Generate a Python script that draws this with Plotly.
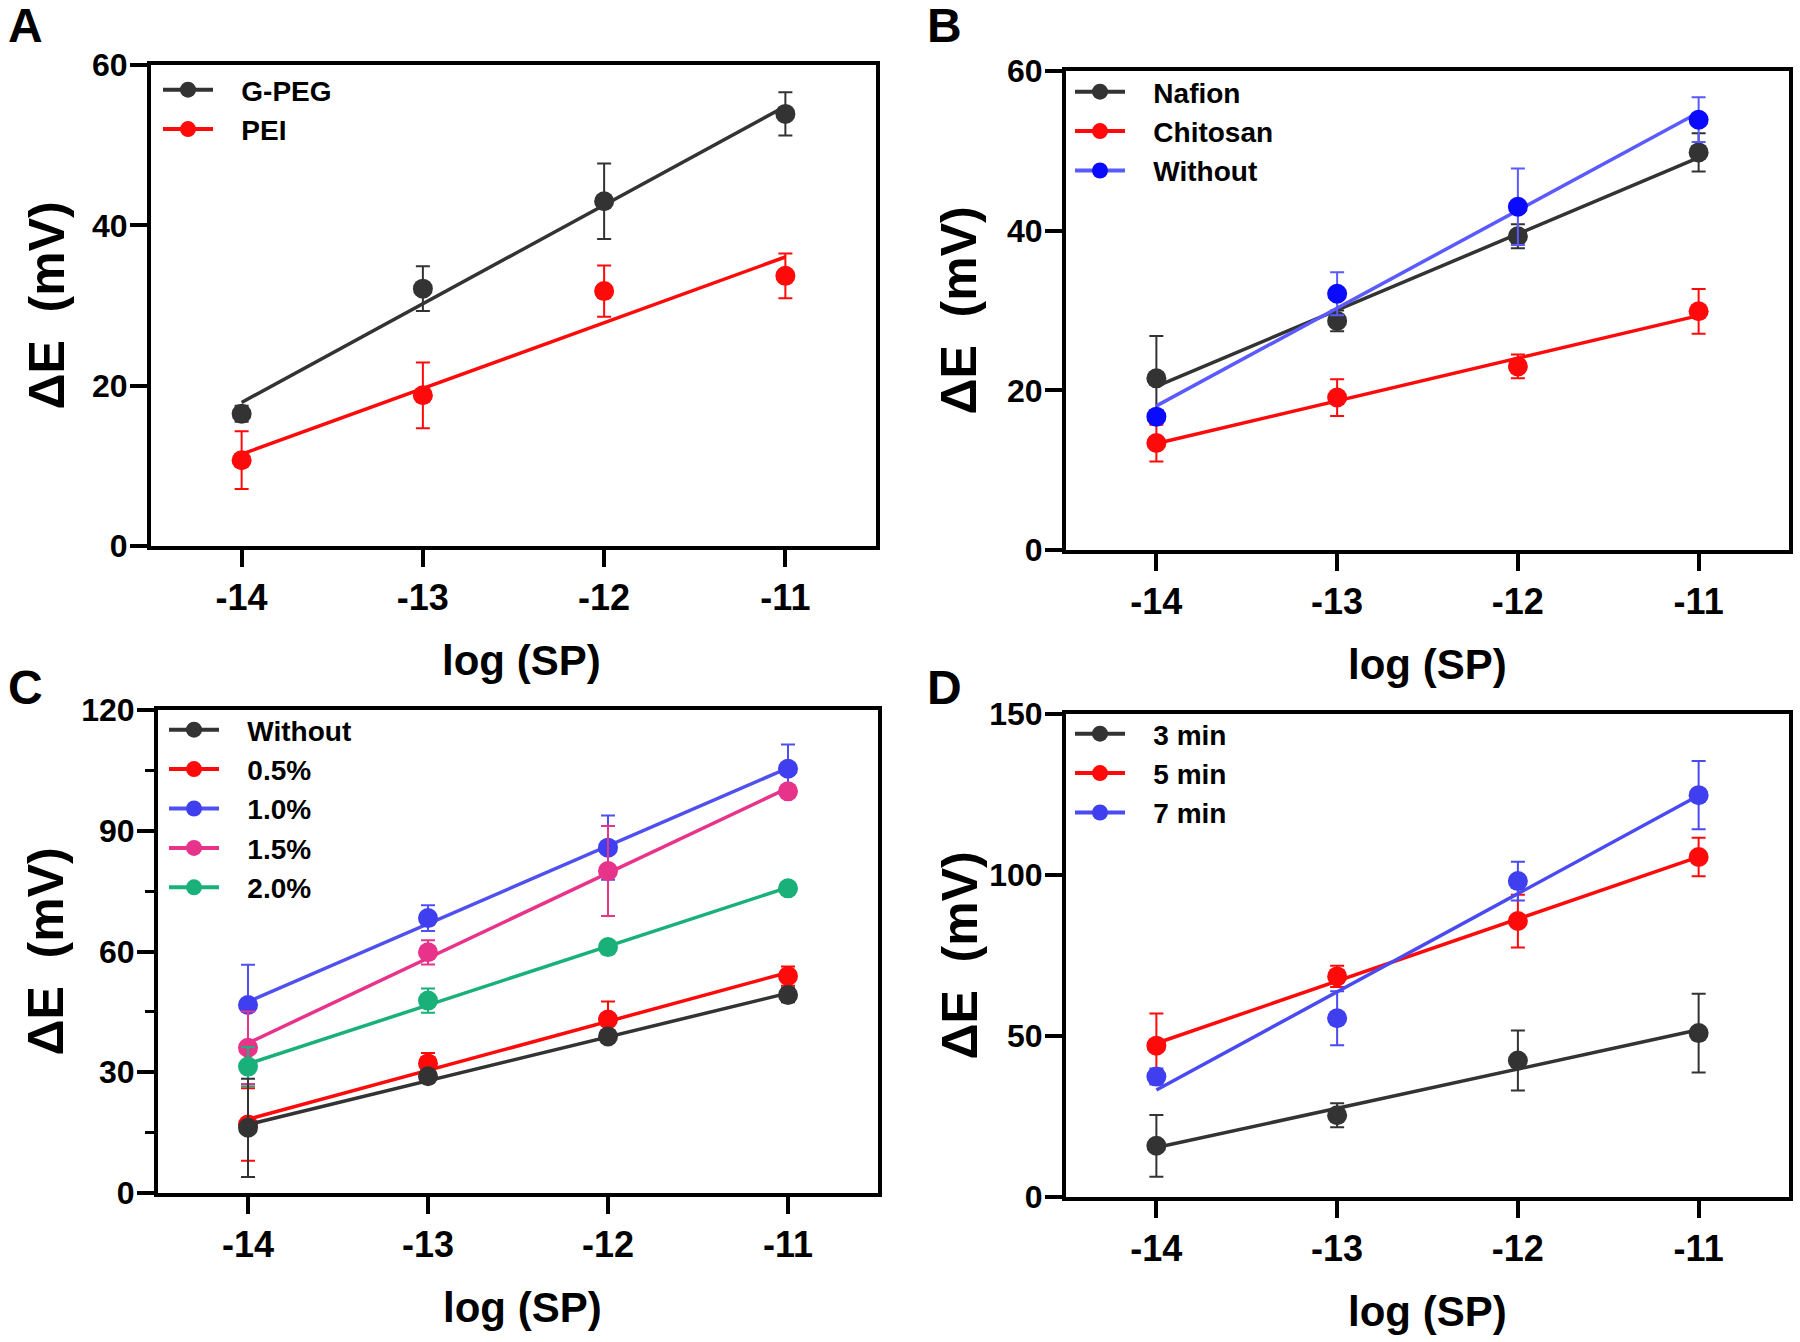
import numpy as np
import plotly.graph_objects as go

W, H = 1800, 1342

# ---------------- data ----------------
log_sp = [-14, -13, -12, -11]
x_ticks = [-14, -13, -12, -11]
x_tick_labels = ["-14", "-13", "-12", "-11"]

a_gpeg = [16.5, 32.1, 43.0, 53.9]
a_gpeg_err = [1.0, 2.8, 4.7, 2.7]
a_pei = [10.7, 18.8, 31.8, 33.7]
a_pei_err = [3.6, 4.1, 3.2, 2.8]

b_nafion = [21.5, 28.7, 39.3, 49.8]
b_nafion_err = [5.3, 1.3, 1.5, 2.4]
b_chitosan = [13.4, 19.1, 23.0, 29.9]
b_chitosan_err = [2.3, 2.3, 1.5, 2.8]
b_without = [16.7, 32.1, 43.0, 53.9]
b_without_err = [0.8, 2.7, 4.8, 2.8]

c_without = [16.2, 29.0, 38.9, 49.2]
c_without_err = [12.2, 1.0, 1.0, 1.8]
c_05 = [17.0, 32.2, 43.1, 53.9]
c_05_err = [9.0, 2.6, 4.5, 2.4]
c_10 = [46.7, 68.3, 85.8, 105.4]
c_10_err = [10.0, 3.2, 8.0, 6.0]
c_15 = [36.1, 59.8, 80.0, 99.8]
c_15_err = [9.0, 3.0, 11.2, 1.5]
c_20 = [31.4, 47.8, 61.1, 75.7]
c_20_err = [4.9, 3.0, 1.0, 1.0]

d_3 = [15.9, 25.4, 42.4, 50.9]
d_3_err = [9.6, 3.7, 9.3, 12.2]
d_5 = [47.0, 68.5, 85.7, 105.6]
d_5_err = [10.0, 3.3, 8.2, 6.0]
d_7 = [37.4, 55.5, 98.1, 124.8]
d_7_err = [2.5, 8.4, 6.0, 10.6]

a_labels = ["G-PEG", "PEI"]
b_labels = ["Nafion", "Chitosan", "Without"]
c_labels = ["Without", "0.5%", "1.0%", "1.5%", "2.0%"]
d_labels = ["3 min", "5 min", "7 min"]

# ---------------- style ----------------
BLACK = "#333333"
RED = "#ff0a0a"
BLUE_B = "#0a0aff"
BLUE = "#3f3ff0"
PINK = "#e8338a"
GREEN = "#19b07a"
FONT = "Liberation Sans"
PAD = "\u00a0\u00a0\u00a0"

fig = go.Figure()

# name: (x id, y id, x px span, y px span, ymax, dtick, legend id, legend px pos,
#        ytitle x px, xtitle x offset px)
panels = {
    "A": ("x", "y", (151, 876), (65, 546), 60, 20, "legend", (158, 65), 46, 8),
    "B": ("x2", "y2", (1066, 1789), (71, 550), 60, 20, "legend2", (1070, 67), 959, 0),
    "C": ("x3", "y3", (158, 878), (710, 1193), 120, 30, "legend3", (164, 705), 46, 4),
    "D": ("x4", "y4", (1066, 1789), (714, 1197), 150, 50, "legend4", (1070, 709), 959, 0),
}

series = {
    "A": [(a_labels[0], a_gpeg, a_gpeg_err, BLACK, BLACK),
          (a_labels[1], a_pei, a_pei_err, RED, RED)],
    "B": [(b_labels[0], b_nafion, b_nafion_err, BLACK, BLACK),
          (b_labels[1], b_chitosan, b_chitosan_err, RED, RED),
          (b_labels[2], b_without, b_without_err, BLUE_B, "#5a5aff")],
    "C": [(c_labels[0], c_without, c_without_err, BLACK, BLACK),
          (c_labels[1], c_05, c_05_err, RED, RED),
          (c_labels[2], c_10, c_10_err, BLUE, "#5050f0"),
          (c_labels[3], c_15, c_15_err, PINK, PINK),
          (c_labels[4], c_20, c_20_err, GREEN, GREEN)],
    "D": [(d_labels[0], d_3, d_3_err, BLACK, BLACK),
          (d_labels[1], d_5, d_5_err, RED, RED),
          (d_labels[2], d_7, d_7_err, BLUE, "#4a4af2")],
}

draw_order = {"A": [0, 1], "B": [0, 1, 2], "C": [1, 2, 3, 4, 0], "D": [0, 1, 2]}

xa = np.array(log_sp, dtype=float)
MS = 20

for p, (xid, yid, xd, yd, ymax, dtick, leg, lpos, ytx, xto) in panels.items():
    sers = series[p]
    for rank, (name, vals, errs, mcol, lcol) in enumerate(sers):
        fig.add_trace(go.Scatter(
            x=[None], y=[None], mode="lines+markers", name=PAD + name,
            line=dict(color=lcol, width=4),
            marker=dict(color=mcol, size=MS),
            xaxis=xid, yaxis=yid, legend=leg, legendrank=rank + 1,
            showlegend=True, hoverinfo="skip"))
    for i in draw_order[p]:
        name, vals, errs, mcol, lcol = sers[i]
        ya = np.array(vals, dtype=float)
        k, b = np.polyfit(xa, ya, 1)
        fig.add_trace(go.Scatter(
            x=[xa[0], xa[-1]], y=[k * xa[0] + b, k * xa[-1] + b],
            mode="lines", line=dict(color=lcol, width=3.5),
            xaxis=xid, yaxis=yid, showlegend=False, hoverinfo="skip"))
        fig.add_trace(go.Scatter(
            x=log_sp, y=vals, mode="markers",
            marker=dict(color=mcol, size=MS),
            error_y=dict(type="data", array=errs, visible=True,
                         color=lcol, thickness=2, width=7),
            xaxis=xid, yaxis=yid, showlegend=False, name=name))

layout = dict(
    template="none",
    width=W, height=H,
    margin=dict(l=0, r=0, t=0, b=0, pad=0, autoexpand=False),
    paper_bgcolor="white", plot_bgcolor="white",
    font=dict(family=FONT, color="black"),
    showlegend=True,
)

annotations = []
for p, (xid, yid, xd, yd, ymax, dtick, leg, lpos, ytx, xto) in panels.items():
    xkey = "xaxis" + xid[1:]
    ykey = "yaxis" + yid[1:]
    axis_common = dict(
        showline=True, linewidth=4, linecolor="black", mirror=True,
        ticks="outside", ticklen=17, tickwidth=4, tickcolor="black",
        showgrid=False, zeroline=False, automargin=False,
    )
    layout[xkey] = dict(
        domain=[xd[0] / W, xd[1] / W], anchor=yid,
        range=[-14.5, -10.5], tickvals=x_ticks, ticktext=x_tick_labels,
        tickfont=dict(family=FONT, size=36, color="black", weight="bold"),
        ticklabelstandoff=0,
        **axis_common)
    ydict = dict(
        domain=[1 - yd[1] / H, 1 - yd[0] / H], anchor=xid,
        range=[0, ymax], dtick=dtick, tick0=0,
        tickfont=dict(family=FONT, size=32, color="black", weight="bold"),
        ticklabelstandoff=-4,
        **axis_common)
    if p == "C":
        ydict["minor"] = dict(dtick=15, ticks="outside", ticklen=9,
                              tickwidth=3, tickcolor="black", showgrid=False)
    layout[ykey] = ydict
    layout[leg] = dict(
        x=lpos[0] / W, y=1 - lpos[1] / H, xanchor="left", yanchor="top",
        bgcolor="rgba(0,0,0,0)", borderwidth=0, itemwidth=50,
        font=dict(family=FONT, size=28, color="black", weight="bold"),
        traceorder="normal",
    )
    cx = (xd[0] + xd[1]) / 2 + xto
    cy = (yd[0] + yd[1]) / 2
    annotations.append(dict(
        x=cx / W, y=1 - (yd[1] + 114) / H, xref="paper", yref="paper",
        text="log (SP)", showarrow=False, xanchor="center", yanchor="middle",
        font=dict(family=FONT, size=42, color="black", weight="bold")))
    annotations.append(dict(
        x=ytx / W, y=1 - cy / H, xref="paper", yref="paper",
        text="ΔE  (mV)", showarrow=False, textangle=-90,
        xanchor="center", yanchor="middle",
        font=dict(family=FONT, size=50, color="black", weight="bold")))

panel_label_pos = {"A": (25, 25), "B": (944, 25), "C": (25, 687), "D": (944, 687)}
for lab, (px, py) in panel_label_pos.items():
    annotations.append(dict(
        x=px / W, y=1 - py / H, xref="paper", yref="paper", text=lab,
        showarrow=False, xanchor="center", yanchor="middle",
        font=dict(family=FONT, size=48, color="black", weight="bold")))

layout["annotations"] = annotations
fig.update_layout(**layout)

fig.write_html("out.html",
               config={"displayModeBar": False},
               post_script="document.body.style.margin='0';"
                           "document.body.style.overflow='hidden';")
